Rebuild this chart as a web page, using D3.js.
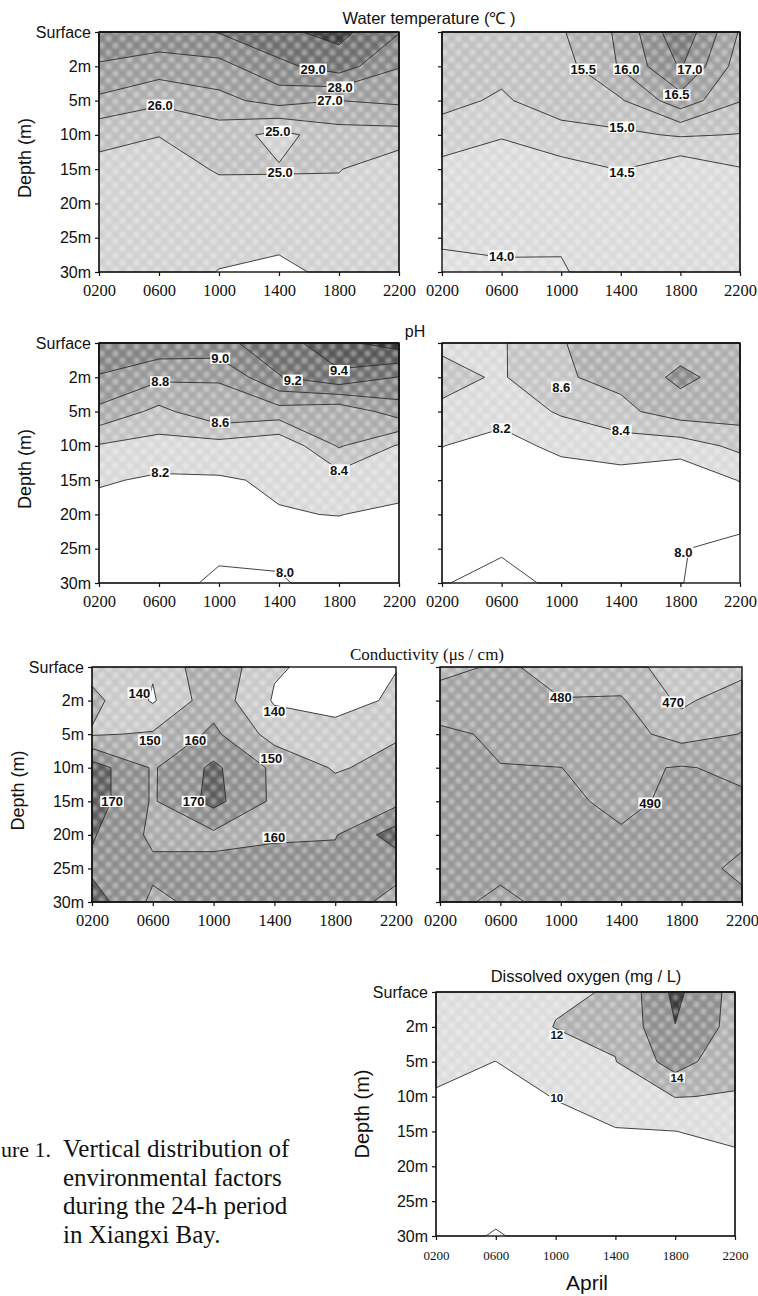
<!DOCTYPE html>
<html>
<head>
<meta charset="utf-8">
<script src="https://cdn.jsdelivr.net/npm/d3@7"></script>
<style>
body { margin: 0; background: #fff; }
</style>
</head>
<body>
<svg width="758" height="1296"></svg>
<script>
// sampling times and depths
var times = ["0200", "0600", "1000", "1400", "1800", "2200"];
var depths = ["Surface", "2m", "5m", "10m", "15m", "20m", "25m", "30m"];

// one row per depth, one column per time
var tempSummer = [
  [28.7, 28.7, 29.05, 29.8, 30.3, 29.05],
  [27.9, 27.5, 27.67, 28.75, 29.5, 28.05],
  [26.8, 26.2, 26.7, 27.39, 27.0, 27.2],
  [25.3, 25.03, 25.47, 24.7, 25.57, 25.6],
  [24.7, 24.5, 25.1, 25.07, 25.05, 24.24],
  [24.5, 24.4, 24.5, 24.6, 24.6, 24.2],
  [24.4, 24.3, 24.2, 24.1, 24.3, 24.2],
  [24.3, 24.3, 23.98, 23.9, 24.11, 24.15]
];
var tempSpring = [
  [15.3, 15.35, 15.45, 16.1, 17.4, 15.95],
  [15.2, 15.1, 15.3, 16.05, 17.05, 15.75],
  [15.1, 14.95, 15.2, 15.45, 16.3, 15.52],
  [14.85, 14.56, 14.85, 14.9, 15.05, 14.98],
  [14.3, 14.06, 14.3, 14.52, 14.15, 14.47],
  [14.2, 14.05, 14.15, 14.3, 14.1, 14.3],
  [14.05, 14.04, 14.05, 14.25, 14.05, 14.2],
  [13.9, 13.97, 13.96, 14.25, 14.02, 14.1]
];
var phSummer = [
  [9.15, 9.14, 9.15, 9.3, 9.55, 9.7],
  [8.985, 8.84, 8.81, 9.19, 9.35, 9.19],
  [8.752, 8.546, 8.75, 8.715, 8.65, 8.9],
  [8.384, 8.325, 8.32, 8.24, 8.619, 8.38],
  [8.223, 8.17, 8.18, 8.225, 8.306, 8.3],
  [8.12, 8.12, 8.1, 8.19, 8.205, 8.15],
  [8.08, 8.06, 8.01, 8.02, 8.1, 8.1],
  [8.05, 8.02, 7.99, 7.99, 8.04, 8.06]
];
var phSpring = [
  [8.37, 8.38, 8.59, 8.7, 8.7, 8.72],
  [8.45, 8.38, 8.58, 8.65, 8.85, 8.7],
  [8.37, 8.3, 8.42, 8.55, 8.7, 8.7],
  [8.205, 8.1, 8.27, 8.3, 8.3, 8.45],
  [8.1, 8.06, 8.05, 8.12, 8.04, 8.21],
  [8.06, 8.04, 8.05, 8.06, 8.03, 8.04],
  [8.03, 8.01, 8.04, 8.03, 8.005, 7.97],
  [8.005, 7.97, 8.02, 8.02, 8.003, 7.95]
];
var condSummer = [
  [146, 141, 158, 141, 137, 139.6],
  [153, 139, 156, 139, 135, 142],
  [149, 151, 162, 146, 145, 149],
  [175, 159, 172, 158, 149, 153],
  [175, 159, 173.1, 158, 155, 157],
  [171, 158, 158, 159, 159.4, 175],
  [168, 162, 162, 163, 163.4, 163],
  [175, 158, 163, 164, 165, 157]
];
var condSpring = [
  [478, 481, 478, 474, 465, 466],
  [483, 482, 480.2, 481, 468, 476.5],
  [492.5, 488, 486, 484, 476, 480.3],
  [494, 490.3, 490.05, 488, 490.7, 488],
  [495, 493, 491, 488.9, 491.1, 491.5],
  [495, 494, 491, 490.5, 492, 491],
  [494, 492, 493, 491, 492, 489],
  [493, 488, 493, 492, 491, 491]
];
var oxygen = [
  [11.2, 11.4, 11.8, 12.1, 16.5, 13.3],
  [10.8, 11.0, 12.05, 12.3, 15.95, 13.3],
  [10.3, 9.99, 11.0, 11.95, 14.9, 12.5],
  [9.9, 9.5, 10.05, 10.4, 12.05, 11.9],
  [9.5, 9.2, 9.6, 9.95, 9.98, 10.5],
  [9.2, 9.0, 9.3, 9.5, 9.5, 9.4],
  [9.0, 8.4, 8.9, 9.2, 9.3, 9.2],
  [8.5, 7.9, 8.5, 8.8, 8.9, 9.0]
];

// contour levels
var tempSummerLevels = [24, 25, 26, 27, 28, 29, 30];
var tempSpringLevels = [14, 14.5, 15, 15.5, 16, 16.5, 17];
var phSummerLevels = [8.0, 8.2, 8.4, 8.6, 8.8, 9.0, 9.2, 9.4, 9.6];
var phSpringLevels = [8.0, 8.2, 8.4, 8.6, 8.8];
var condSummerLevels = [140, 150, 160, 170];
var condSpringLevels = [470, 480, 490];
var oxygenLevels = [8, 10, 12, 14, 16];

// contour labels: text, time index, depth index
var tempSummerLabels = [["29.0", 3.57, 1.08], ["28.0", 4.02, 1.6], ["27.0", 3.85, 2.0], ["26.0", 1.02, 2.13], ["25.0", 2.98, 2.89], ["25.0", 3.02, 4.1]];
var tempSpringLabels = [["15.5", 2.37, 1.08], ["16.0", 3.1, 1.08], ["17.0", 4.16, 1.08], ["16.5", 3.94, 1.83], ["15.0", 3.02, 2.77], ["14.5", 3.02, 4.08], ["14.0", 1.0, 6.53]];
var phSummerLabels = [["9.0", 2.02, 0.44], ["8.8", 1.02, 1.13], ["9.2", 3.23, 1.08], ["9.4", 4.0, 0.8], ["8.6", 2.02, 2.3], ["8.2", 1.02, 3.76], ["8.4", 4.0, 3.7], ["8.0", 3.1, 6.68]];
var phSpringLabels = [["8.6", 2.0, 1.28], ["8.4", 3.0, 2.54], ["8.2", 1.0, 2.5], ["8.0", 4.05, 6.1]];
var condSummerLabels = [["140", 0.78, 0.77], ["140", 3.0, 1.33], ["150", 0.95, 2.17], ["160", 1.7, 2.17], ["150", 2.95, 2.73], ["170", 0.33, 4.0], ["170", 1.67, 4.0], ["160", 3.0, 5.07]];
var condSpringLabels = [["480", 2.0, 0.9], ["470", 3.86, 1.04], ["490", 3.48, 4.05]];
var oxygenLabels = [["12", 2.02, 1.23], ["14", 4.03, 2.45], ["10", 2.02, 3.04]];

/////////////////////////////////////
var sans = "'Liberation Sans', Arial, sans-serif";
var serif = "'Liberation Serif', 'Times New Roman', serif";
var svg = d3.select("svg");

// mottled halftone look of the scanned fills
var defs = svg.append("defs");
var pat = defs.append("pattern").attr("id", "mottle")
  .attr("patternUnits", "userSpaceOnUse").attr("width", 14).attr("height", 14);
pat.append("circle").attr("cx", 3.5).attr("cy", 3.5).attr("r", 3.2).attr("fill", "#fff").attr("fill-opacity", 0.4);
pat.append("circle").attr("cx", 10.5).attr("cy", 10.5).attr("r", 3.2).attr("fill", "#fff").attr("fill-opacity", 0.4);
defs.append("filter").attr("id", "soft").append("feGaussianBlur").attr("stdDeviation", 1.4);

var panels = [
  {grid: tempSummer, levels: tempSummerLevels, labels: tempSummerLabels,
   fills: ["#ffffff", "#d0d0d0", "#bebebe", "#acacac", "#9a9a9a", "#868686", "#6c6c6c", "#383838"],
   x0: 99, x1: 399, y0: 32, y1: 272, depthText: true},
  {grid: tempSpring, levels: tempSpringLevels, labels: tempSpringLabels,
   fills: ["#dedede", "#dadada", "#cdcdcd", "#c0c0c0", "#afafaf", "#9f9f9f", "#8c8c8c", "#787878"],
   x0: 442, x1: 740, y0: 32, y1: 272, depthText: false},
  {grid: phSummer, levels: phSummerLevels, labels: phSummerLabels,
   fills: ["#ffffff", "#ffffff", "#d8d8d8", "#c1c1c1", "#aaaaaa", "#969696", "#828282", "#6c6c6c", "#555555", "#333333"],
   x0: 99, x1: 399, y0: 343, y1: 583, depthText: true},
  {grid: phSpring, levels: phSpringLevels, labels: phSpringLabels,
   fills: ["#ffffff", "#ffffff", "#dadada", "#c3c3c3", "#acacac", "#888888"],
   x0: 442, x1: 740, y0: 343, y1: 583, depthText: false},
  {grid: condSummer, levels: condSummerLevels, labels: condSummerLabels,
   fills: ["#ffffff", "#c8c8c8", "#a8a8a8", "#8b8b8b", "#5a5a5a"],
   x0: 92, x1: 396, y0: 667, y1: 902, depthText: true},
  {grid: condSpring, levels: condSpringLevels, labels: condSpringLabels,
   fills: ["#c4c4c4", "#b3b3b3", "#a0a0a0", "#959595"],
   x0: 440, x1: 742, y0: 667, y1: 902, depthText: false},
  {grid: oxygen, levels: oxygenLevels, labels: oxygenLabels,
   fills: ["#ffffff", "#ffffff", "#dcdcdc", "#aeaeae", "#8c8c8c", "#383838"],
   x0: 436, x1: 735, y0: 992, y1: 1236, depthText: true, tickFont: 13, labelFont: 11.5}
];

function clamp(v, lo, hi) { return Math.max(lo, Math.min(hi, v)); }

panels.forEach(function (p) {
  var nx = times.length, ny = depths.length;
  var x = d3.scaleLinear().domain([0, nx - 1]).range([p.x0, p.x1]);
  var y = d3.scaleLinear().domain([0, ny - 1]).range([p.y0, p.y1]);
  var g = svg.append("g");

  // d3.contours puts sample k at k + 0.5, shift so samples sit on the ticks
  var proj = d3.geoTransform({
    point: function (px, py) {
      this.stream.point(x(clamp(px - 0.5, 0, nx - 1)), y(clamp(py - 0.5, 0, ny - 1)));
    }
  });
  var path = d3.geoPath(proj);
  var bands = d3.contours().size([nx, ny]).thresholds(p.levels)(p.grid.flat());

  g.append("rect")
    .attr("x", p.x0).attr("y", p.y0)
    .attr("width", p.x1 - p.x0).attr("height", p.y1 - p.y0)
    .attr("fill", p.fills[0]);

  g.selectAll(".band")
    .data(bands)
    .enter().append("path")
    .attr("class", "band")
    .attr("d", path)
    .attr("fill", function (d, i) { return p.fills[i + 1]; });

  g.append("rect")
    .attr("x", p.x0).attr("y", p.y0)
    .attr("width", p.x1 - p.x0).attr("height", p.y1 - p.y0)
    .attr("fill", "url(#mottle)")
    .attr("filter", "url(#soft)");

  g.selectAll(".iso")
    .data(bands)
    .enter().append("path")
    .attr("class", "iso")
    .attr("d", path)
    .attr("fill", "none")
    .attr("stroke", "#2e2e2e")
    .attr("stroke-width", 0.9)
    .attr("stroke-linejoin", "round");

  // contour labels on white boxes
  var fs = p.labelFont || 13;
  p.labels.forEach(function (l) {
    var lg = g.append("g").attr("transform", "translate(" + x(l[1]) + "," + y(l[2]) + ")");
    var box = lg.append("rect").attr("fill", "#fff");
    var t = lg.append("text")
      .attr("text-anchor", "middle")
      .attr("dy", "0.36em")
      .attr("font-family", sans)
      .attr("font-weight", "bold")
      .attr("font-size", fs)
      .attr("fill", "#111")
      .text(l[0]);
    var b = t.node().getBBox();
    box.attr("x", b.x - 1).attr("y", -fs * 0.42).attr("width", b.width + 2).attr("height", fs * 0.86);
  });

  // frame
  g.append("rect")
    .attr("x", p.x0).attr("y", p.y0)
    .attr("width", p.x1 - p.x0).attr("height", p.y1 - p.y0)
    .attr("fill", "none").attr("stroke", "#111").attr("stroke-width", 1.4);

  var ya = g.append("g")
    .attr("transform", "translate(" + p.x0 + ",0)")
    .call(d3.axisLeft(y).tickValues(d3.range(ny)).tickSize(4).tickPadding(4)
      .tickFormat(function (i) { return p.depthText ? depths[i] : ""; }));
  ya.select(".domain").remove();
  ya.attr("font-family", sans).attr("font-size", 16);
  ya.selectAll("line").attr("stroke", "#111").attr("stroke-width", 1.2);
  ya.selectAll("text").attr("fill", "#111");

  var xa = g.append("g")
    .attr("transform", "translate(0," + p.y1 + ")")
    .call(d3.axisBottom(x).tickValues(d3.range(nx)).tickSize(4)
      .tickFormat(function (i) { return times[i]; }));
  xa.select(".domain").remove();
  xa.attr("font-family", serif).attr("font-size", p.tickFont || 16.5);
  xa.selectAll("line").attr("stroke", "#111").attr("stroke-width", 1.2);
  xa.selectAll("text").attr("fill", "#111").attr("y", 23.5).attr("dy", null);

  if (p.depthText) {
    g.append("text")
      .attr("transform", "translate(" + (p.x0 - 74) + "," + ((p.y0 + p.y1) / 2 + (p.tickFont ? 0 : 6)) + ") rotate(-90)")
      .attr("text-anchor", "middle")
      .attr("dy", "0.35em")
      .attr("font-family", sans)
      .attr("font-size", p.tickFont ? 20 : 18)
      .attr("fill", "#111")
      .text("Depth (m)");
  }
});

// titles
svg.append("text").attr("x", 429).attr("y", 24).attr("text-anchor", "middle")
  .attr("font-family", sans).attr("font-size", 16.5).attr("fill", "#111")
  .text("Water temperature (\u2103 )");
svg.append("text").attr("x", 415).attr("y", 337).attr("text-anchor", "middle")
  .attr("font-family", sans).attr("font-size", 16).attr("fill", "#111")
  .text("pH");
svg.append("text").attr("x", 427).attr("y", 660).attr("text-anchor", "middle")
  .attr("font-family", serif).attr("font-size", 17).attr("fill", "#111")
  .text("Conductivity (\u03bcs / cm)");
svg.append("text").attr("x", 586).attr("y", 982).attr("text-anchor", "middle")
  .attr("font-family", sans).attr("font-size", 16.5).attr("fill", "#111")
  .text("Dissolved oxygen (mg / L)");
svg.append("text").attr("x", 587).attr("y", 1290).attr("text-anchor", "middle")
  .attr("font-family", sans).attr("font-size", 21).attr("fill", "#111")
  .text("April");

// caption; the scan shows only the tail of the figure number
var cap = svg.append("g").attr("font-family", serif).attr("fill", "#111");
cap.append("text").attr("x", 1).attr("y", 1157).attr("font-size", 22).text("ure 1.");
["Vertical distribution of", "environmental factors", "during the 24-h period", "in Xiangxi Bay."]
  .forEach(function (s, i) {
    cap.append("text").attr("x", 63).attr("y", 1157 + i * 28.7).attr("font-size", 25).text(s);
  });
</script>
</body>
</html>
